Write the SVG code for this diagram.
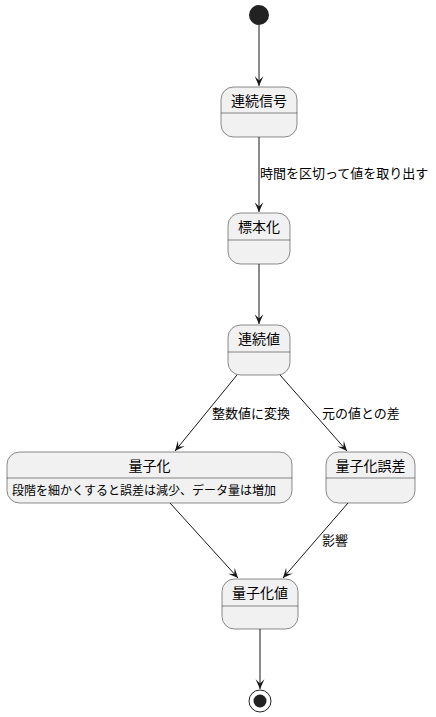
<svg xmlns="http://www.w3.org/2000/svg" width="436" height="717" viewBox="0 0 436 717">
<style>
.st{fill:#F1F1F1;stroke:#181818;stroke-width:0.5}
.dv{stroke:#181818;stroke-width:0.5}
.t{font-family:"Noto Sans CJK JP",sans-serif;font-size:14px;fill:#000;text-anchor:middle}
.d{font-family:"Noto Sans CJK JP",sans-serif;font-size:12px;fill:#000}
.l{font-family:"Noto Sans CJK JP",sans-serif;font-size:13px;fill:#000}
.e{stroke:#181818;stroke-width:1;fill:none;marker-end:url(#ah)}
</style>
<defs>
<marker id="ah" markerUnits="userSpaceOnUse" markerWidth="12" markerHeight="12" viewBox="-10 -5 11 10" refX="0" refY="0" orient="auto">
<path d="M0,0 L-9,-4 L-5,0 L-9,4 Z" fill="#181818"/>
</marker>
</defs>
<g id="start"><circle cx="259" cy="15" r="10" fill="#222222"/></g>
<g id="renzoku-shingo">
<rect class="st" x="221" y="87" width="76" height="50" rx="12.5"/>
<line class="dv" x1="221" y1="113" x2="297" y2="113"/>
<text class="t" x="259" y="106">連続信号</text>
</g>
<g id="hyohonka">
<rect class="st" x="228" y="213" width="62" height="51" rx="12.5"/>
<line class="dv" x1="228" y1="240" x2="290" y2="240"/>
<text class="t" x="259" y="232">標本化</text>
</g>
<g id="renzokuchi">
<rect class="st" x="228" y="325" width="62" height="50" rx="12.5"/>
<line class="dv" x1="228" y1="352" x2="290" y2="352"/>
<text class="t" x="259" y="344">連続値</text>
</g>
<g id="ryoshika">
<rect class="st" x="7" y="452" width="285" height="51" rx="12.5"/>
<line class="dv" x1="7" y1="478" x2="292" y2="478"/>
<text class="t" x="149.5" y="471">量子化</text>
<text class="d" x="12" y="495">段階を細かくすると誤差は減少、データ量は増加</text>
</g>
<g id="ryoshika-gosa">
<rect class="st" x="326" y="452" width="89" height="51" rx="12.5"/>
<line class="dv" x1="326" y1="478" x2="415" y2="478"/>
<text class="t" x="370.5" y="471">量子化誤差</text>
</g>
<g id="ryoshikachi">
<rect class="st" x="222" y="579" width="76" height="50" rx="12.5"/>
<line class="dv" x1="222" y1="606" x2="298" y2="606"/>
<text class="t" x="260" y="598">量子化値</text>
</g>
<g id="end">
<circle cx="260" cy="701" r="11" fill="none" stroke="#222222" stroke-width="1"/>
<circle cx="260" cy="701" r="6.5" fill="#222222"/>
</g>
<g id="connectors">
<line class="e" x1="259" y1="25" x2="259" y2="86"/>
<line class="e" x1="259" y1="137" x2="259" y2="212"/>
<text class="l" x="260" y="178">時間を区切って値を取り出す</text>
<line class="e" x1="259" y1="264" x2="259" y2="324"/>
<line class="e" x1="237" y1="375" x2="175" y2="451"/>
<text class="l" x="212" y="418">整数値に変換</text>
<line class="e" x1="280" y1="375" x2="347" y2="451"/>
<text class="l" x="322" y="418">元の値との差</text>
<line class="e" x1="170" y1="503" x2="238" y2="578"/>
<line class="e" x1="348" y1="503" x2="283" y2="578"/>
<text class="l" x="322" y="545">影響</text>
<line class="e" x1="260" y1="629" x2="260" y2="689"/>
</g>
</svg>
